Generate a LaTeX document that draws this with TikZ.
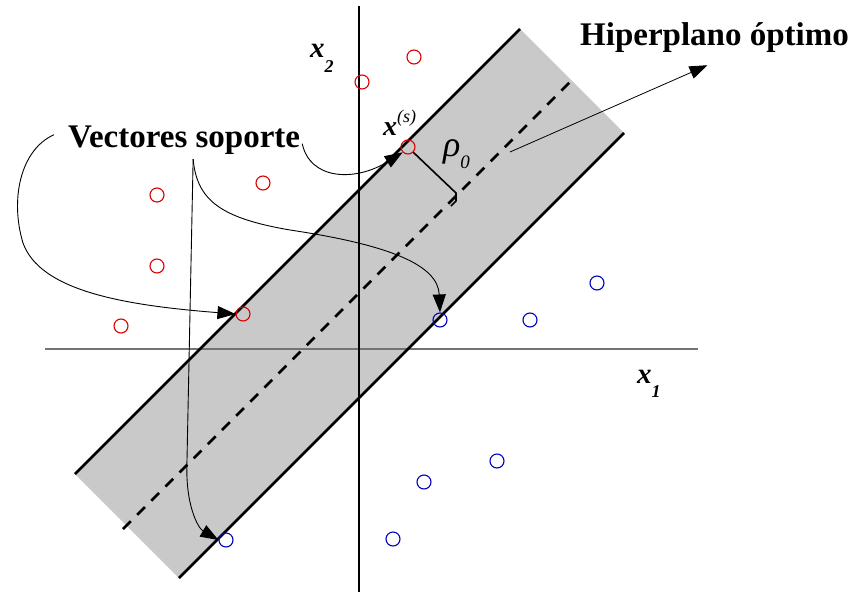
\documentclass[tikz,border=0pt]{standalone}
\usepackage{fontspec}
\setmainfont{Liberation Serif}
\usetikzlibrary{arrows.meta,calc}

\begin{document}
\begin{tikzpicture}[
  x=1pt,y=-1pt,
  clase1/.style={
    circle,
    draw=red!85!black,
    line width=1.1pt,
    minimum size=14pt,
    inner sep=0pt
  },
  clase2/.style={
    circle,
    draw=blue!75!black,
    line width=1.1pt,
    minimum size=14pt,
    inner sep=0pt
  },
  margen/.style={
    line width=2.6pt
  },
  hiperplano/.style={
    line width=2.6pt,
    dash pattern=on 11pt off 9pt
  },
  flecha/.style={
    -{Triangle[length=18pt,width=13pt]},
    line width=0.9pt
  },
  rotulo/.style={
    font=\bfseries\fontsize{33}{36}\selectfont,
    inner sep=0pt,
    anchor=base west
  },
  eje/.style={
    font=\bfseries\itshape\fontsize{29}{30}\selectfont,
    inner sep=0pt,
    anchor=base west
  }
]
\useasboundingbox (0,0) rectangle (855,595);

\fill[black!21] (75,474) -- (520,29) -- (624,133) -- (179,578) -- cycle;
\draw[black!55,line width=1.3pt] (45,349) -- (698,349);
\draw[line width=1.2pt] (359,6) -- (359,592);
\draw[margen] (75,474) -- (520,29);
\draw[margen] (179,578) -- (624,133);
\draw[hiperplano] (123,529) -- (574,78);

\node[clase1] (r1) at (157,195) {};
\node[clase1] (r2) at (263,183) {};
\node[clase1] (r3) at (157,266) {};
\node[clase1] (r4) at (121,326) {};
\node[clase1] (r5) at (362,82) {};
\node[clase1] (r6) at (414,57) {};
\node[clase1] (sv-top) at (408,147) {};
\node[clase1] (sv-left) at (243,314) {};

\node[clase2] (sv-blue) at (440,320) {};
\node[clase2] (b1) at (530,320) {};
\node[clase2] (b2) at (597,283) {};
\node[clase2] (b3) at (497,461) {};
\node[clase2] (b4) at (424,482) {};
\node[clase2] (b5) at (393,539) {};
\node[clase2] (sv-bottom) at (226,540) {};

\node[rotulo] (vs) at (68,147) {Vectores soporte};
\node[rotulo] (hp) at (580,45) {Hiperplano óptimo};
\node[eje] (x2) at (310,57) {x\raisebox{-15pt}{\fontsize{18}{18}\selectfont 2}};
\node[eje] (x1) at (637,383) {x\raisebox{-14pt}{\fontsize{18}{18}\selectfont 1}};
\node[eje,font=\bfseries\itshape\fontsize{28}{28}\selectfont] (xs) at (383,135)
  {x\raisebox{13pt}{\fontsize{18}{18}\selectfont\mdseries(s)}};
\node[eje,font=\itshape\fontsize{36}{36}\selectfont] (rho) at (443,156)
  {ρ\raisebox{-12pt}{\fontsize{19}{19}\selectfont 0}};

\draw[flecha] ($(vs.west)+(-14,-5)$) .. controls (20,150) and (10,200) .. (23,243)
  .. controls (40,290) and (120,305) .. (sv-left.west);
\draw[flecha] ($(vs.east)+(2,4)$) .. controls (310,180) and (355,182) .. (sv-top.south west);
\draw[flecha] ($(vs.south)+(9,5)$) .. controls (197,200) and (220,218) .. (290,230)
  .. controls (390,245) and (438,265) .. (sv-blue.north);
\draw[flecha] ($(vs.south)+(9,5)$) -- (187,460) .. controls (185,505) and (198,528) .. (sv-bottom.west);

\coordinate (h-pt) at (510,152);
\draw[flecha,line width=0.8pt] (h-pt) -- ($(hp.south)+(-7,13)$);

\draw[line width=1.6pt] (sv-top.south east) -- (456,193) -- ++(0,8) -- ++(-5,5);

\end{tikzpicture}
\end{document}
